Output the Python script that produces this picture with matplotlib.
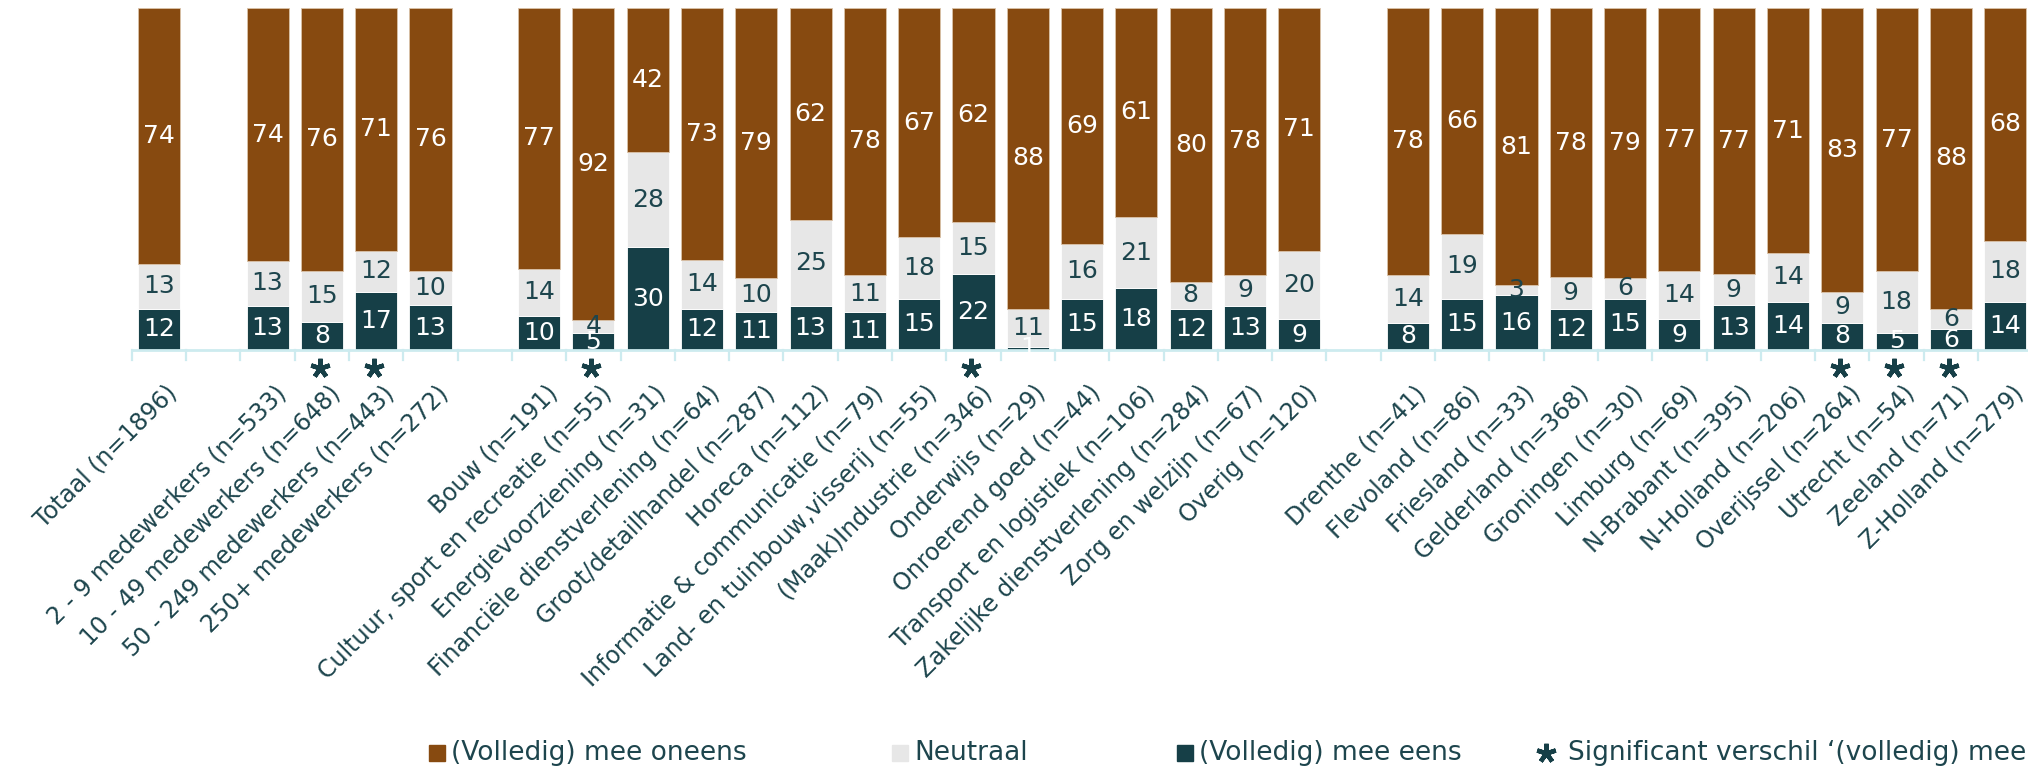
import numpy as np
import matplotlib
matplotlib.use("Agg")
import matplotlib.pyplot as plt
from matplotlib.patches import Rectangle
from matplotlib.lines import Line2D
from matplotlib.transforms import ScaledTranslation

# ---------- data ----------
totaal = ["Totaal (n=1896)"]
grootte = ["2 - 9 medewerkers (n=533)", "10 - 49 medewerkers (n=648)",
           "50 - 249 medewerkers (n=443)", "250+ medewerkers (n=272)"]
sectoren = ["Bouw (n=191)", "Cultuur, sport en recreatie (n=55)", "Energievoorziening (n=31)",
            "Financiële dienstverlening (n=64)", "Groot/detailhandel (n=287)", "Horeca (n=112)",
            "Informatie & communicatie (n=79)", "Land- en tuinbouw,visserij (n=55)",
            "(Maak)Industrie (n=346)", "Onderwijs (n=29)", "Onroerend goed (n=44)",
            "Transport en logistiek (n=106)", "Zakelijke dienstverlening (n=284)",
            "Zorg en welzijn (n=67)", "Overig (n=120)"]
provincies = ["Drenthe (n=41)", "Flevoland (n=86)", "Friesland (n=33)", "Gelderland (n=368)",
              "Groningen (n=30)", "Limburg (n=69)", "N-Brabant (n=395)", "N-Holland (n=206)",
              "Overijssel (n=264)", "Utrecht (n=54)", "Zeeland (n=71)", "Z-Holland (n=279)"]

# (Volledig) mee eens
eens = [12,
        13, 8, 17, 13,
        10, 5, 30, 12, 11, 13, 11, 15, 22, 1, 15, 18, 12, 13, 9,
        8, 15, 16, 12, 15, 9, 13, 14, 8, 5, 6, 14]
# Neutraal
neutraal = [13,
            13, 15, 12, 10,
            14, 4, 28, 14, 10, 25, 11, 18, 15, 11, 16, 21, 8, 9, 20,
            14, 19, 3, 9, 6, 14, 9, 14, 9, 18, 6, 18]
# (Volledig) mee oneens
oneens = [74,
          74, 76, 71, 76,
          77, 92, 42, 73, 79, 62, 78, 67, 62, 88, 69, 61, 80, 78, 71,
          78, 66, 81, 78, 79, 77, 77, 71, 83, 77, 88, 68]
# significant verschil
significant = [False,
               False, True, True, False,
               False, True, False, False, False, False, False, False, True, False,
               False, False, False, False, False,
               False, False, False, False, False, False, False, False, True, True, True, False]

# ---------- style ----------
C_ONEENS = "#874A10"
C_NEUTRAAL = "#E7E7E7"
C_EENS = "#163F47"
C_TEXT = "#1D454D"
C_AXIS = "#CDEBEF"
FONT = ["DejaVu Sans"]

W, H, DPI = 2028, 770, 100
fig = plt.figure(figsize=(W / DPI, H / DPI), dpi=DPI)
fig.patch.set_facecolor("white")

# plot area in pixels: bottom of bars at y=350, top at y=8
ax = fig.add_axes([0, 1 - 350 / H, 1, 342 / H])
ax.set_facecolor("none")

# slot positions with one empty slot between groups
labels = []
pos = []
slot = 0
for group in [totaal, grootte, sectoren, provincies]:
    for lab in group:
        labels.append(lab)
        pos.append(slot)
        slot += 1
    slot += 1
pos = np.array(pos, dtype=float)

e = np.array(eens, float)
n = np.array(neutraal, float)
o = np.array(oneens, float)
tot = e + n + o
he, hn, ho = e / tot * 100, n / tot * 100, o / tot * 100

bw = 0.775
ax.bar(pos, he, bw, color=C_EENS, edgecolor="white", linewidth=0.6)
ax.bar(pos, hn, bw, bottom=he, color=C_NEUTRAAL, edgecolor="white", linewidth=0.6)
ax.bar(pos, ho, bw, bottom=he + hn, color=C_ONEENS, edgecolor="#d9c2a8", linewidth=0.6)

ax.set_xlim(-159 / 54.3, (W - 159) / 54.3)
ax.set_ylim(0, 100)
ax.axis("off")

# value labels
vfs = 18
for i, x in enumerate(pos):
    ax.text(x, he[i] / 2, str(eens[i]), ha="center", va="center", color="white",
            fontsize=vfs, family=FONT)
    ax.text(x, he[i] + hn[i] / 2, str(neutraal[i]), ha="center", va="center", color=C_TEXT,
            fontsize=vfs, family=FONT)
    ax.text(x, he[i] + hn[i] + ho[i] / 2, str(oneens[i]), ha="center", va="center",
            color="white", fontsize=vfs, family=FONT)

# axis line and separators
last = pos[-1]
ax.plot([-0.5, last + 0.5], [0, 0], color=C_AXIS, lw=2, clip_on=False, solid_capstyle="butt")
for b in np.arange(-0.5, last + 1.0, 1.0):
    ax.plot([b, b], [0, -2.8], color=C_AXIS, lw=1.6, clip_on=False)

# significance markers
for i, x in enumerate(pos):
    if significant[i]:
        ax.plot(x - 0.04, -5.2, marker=(5, 2, 0), markersize=14, mew=3.2, color=C_EENS,
                clip_on=False, linestyle="none")

# category labels
off = ScaledTranslation(6 / DPI, -31 / DPI, fig.dpi_scale_trans)
for i, x in enumerate(pos):
    ax.text(x, 0, labels[i], rotation=45, rotation_mode="anchor", ha="right", va="top",
            color=C_TEXT, fontsize=17, family=FONT,
            transform=ax.get_xaxis_transform() + off)

# legend (drawn by hand, cut off on the right like the original)
ly = 753
leg = [(429, C_ONEENS, "(Volledig) mee oneens"),
       (892, C_NEUTRAAL, "Neutraal"),
       (1177, C_EENS, "(Volledig) mee eens")]
for x0, col, txt in leg:
    fig.add_artist(Rectangle((x0 / W, 1 - (ly + 8) / H), 16 / W, 16 / H,
                             transform=fig.transFigure, color=col))
    fig.text((x0 + 22) / W, 1 - ly / H, txt, ha="left", va="center", fontsize=19,
             color=C_TEXT, family=FONT)
fig.add_artist(Line2D([1546 / W], [1 - ly / H], marker=(5, 2, 0), markersize=14, mew=3.2,
                      color=C_EENS, transform=fig.transFigure, linestyle="none"))
fig.text(1568 / W, 1 - ly / H, "Significant verschil \u2018(volledig) mee eens\u2019 t.o.v. totaal",
         ha="left", va="center", fontsize=19, color=C_TEXT, family=FONT)

fig.savefig("out.png", dpi=DPI)
